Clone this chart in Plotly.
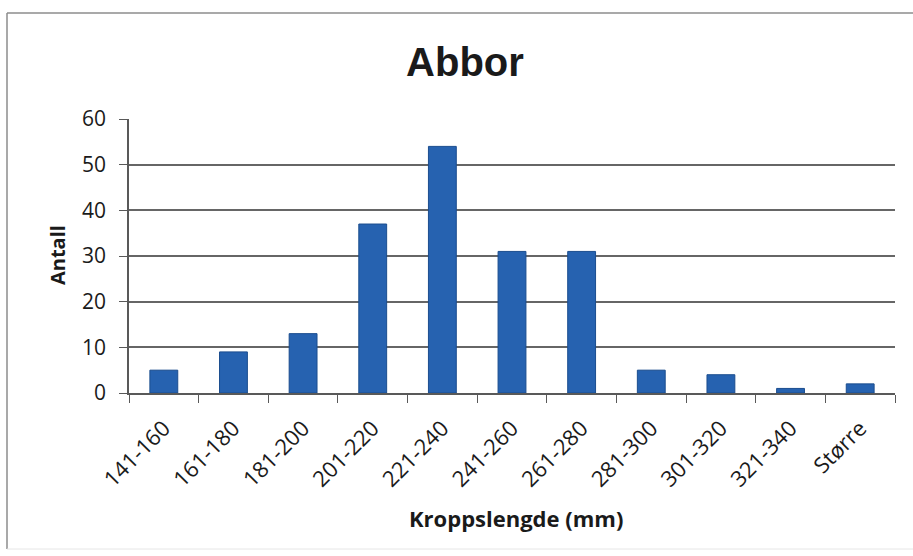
import plotly.graph_objects as go

# Length classes (mm) and number of perch in each class
length_classes = ["141-160", "161-180", "181-200", "201-220", "221-240", "241-260",
                  "261-280", "281-300", "301-320", "321-340", "Større"]
counts = [5, 9, 13, 37, 54, 31, 31, 5, 4, 1, 2]
y_ticks = [0, 10, 20, 30, 40, 50, 60]

W, H = 913, 556
L, R, T, B = 129, 18, 119, 163
pw, ph = W - L - R, H - T - B


def px_x(x):
    return (x - L) / pw


def px_y(y):
    return (H - B - y) / ph


fig = go.Figure(
    go.Bar(
        x=length_classes,
        y=counts,
        marker=dict(color="#2662b0", line=dict(color="#1b4d8e", width=1)),
    )
)

fig.update_layout(
    width=W,
    height=H,
    margin=dict(l=L, r=R, t=T, b=B),
    paper_bgcolor="white",
    plot_bgcolor="white",
    bargap=0.6,
    showlegend=False,
    font=dict(family="Open Sans", color="#1a1a1a"),
    title=dict(
        text="<b>Abbor</b>",
        x=465 / W,
        xanchor="center",
        y=1 - 62 / H,
        yanchor="middle",
        font=dict(family="Liberation Sans", size=40, color="#1a1a1a"),
    ),
)

fig.update_xaxes(
    type="category",
    tickson="boundaries",
    ticks="outside",
    ticklen=8,
    tickcolor="#595959",
    showline=True,
    linecolor="#595959",
    linewidth=1.5,
    showgrid=False,
    tickangle=-45,
    tickfont=dict(size=22, color="#1a1a1a"),
    ticklabelstandoff=12,
)

fig.update_yaxes(
    range=[0, 60],
    tickvals=y_ticks,
    ticks="outside",
    ticklen=8,
    tickcolor="#595959",
    showline=True,
    linecolor="#595959",
    linewidth=1.5,
    showgrid=True,
    gridcolor="#666666",
    gridwidth=1.5,
    zeroline=False,
    tickfont=dict(size=21, color="#1a1a1a"),
    ticklabelstandoff=9,
)

# Axis titles
fig.add_annotation(
    text="<b>Kroppslengde (mm)</b>",
    xref="paper", yref="paper",
    x=px_x(516), y=px_y(518),
    xanchor="center", yanchor="middle",
    showarrow=False,
    font=dict(size=22, color="#1a1a1a"),
)
fig.add_annotation(
    text="<b>Antall</b>",
    xref="paper", yref="paper",
    x=px_x(57), y=px_y(255),
    xanchor="center", yanchor="middle",
    textangle=-90,
    showarrow=False,
    font=dict(size=20, color="#1a1a1a"),
)

# Chart area frame
frame = dict(color="#8c8c8c", width=1.5)
fig.add_shape(type="line", xref="paper", yref="paper",
              x0=px_x(7), x1=px_x(7), y0=px_y(13), y1=px_y(549), line=frame)
fig.add_shape(type="line", xref="paper", yref="paper",
              x0=px_x(7), x1=px_x(914), y0=px_y(13), y1=px_y(13), line=frame)
fig.add_shape(type="line", xref="paper", yref="paper",
              x0=px_x(7), x1=px_x(914), y0=px_y(549), y1=px_y(549),
              line=dict(color="#e6e6e6", width=1))

fig.write_html("out.html")
